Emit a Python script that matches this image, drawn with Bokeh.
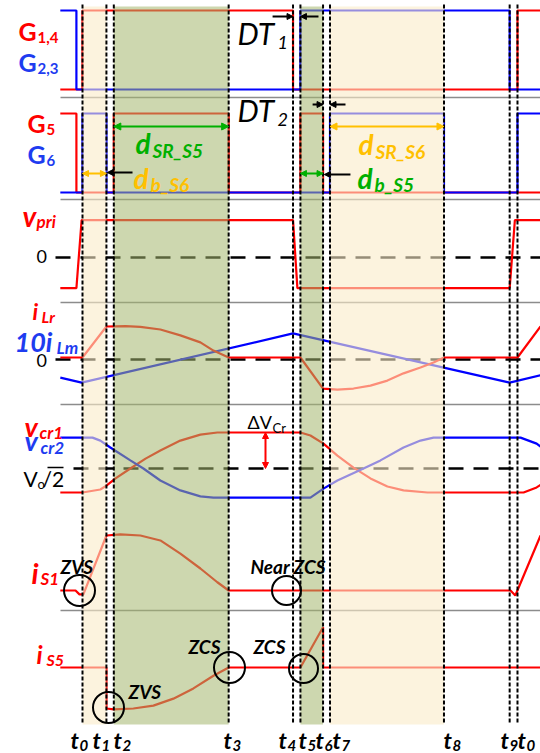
from bokeh.plotting import figure
from bokeh.models import Range1d, Arrow, NormalHead, ColumnDataSource
from bokeh.core.properties import value
from bokeh.embed import file_html
from bokeh.resources import INLINE

# ---------------------------------------------------------------- data
# switching instants, as fractions of one switching period (t0 = 0, next t0 = 1)
instant_names = ["0", "1", "2", "3", "4", "5", "6", "7", "8", "9", "0"]
instant_times = [0.0, 0.055, 0.072, 0.336, 0.484, 0.501, 0.553, 0.569, 0.831, 0.982, 1.0]
(t0, t1, t2, t3, t4, t5, t6, t7, t8, t9, t10) = instant_times
t9_prev = -0.014          # t9 of the previous period
t_first, t_last = -0.051, 1.053

# gate signals: times of the edges and the level before the first edge
g14_edges, g14_init = [t0, t4, t10], 0
g23_edges, g23_init = [t9_prev, t5, t9], 1
g5_edges, g5_init = [t9_prev, t2, t3, t5, t6], 1
g6_edges, g6_init = [t0, t1, t7, t8, t10], 0

# primary voltage (normalised)
vpri_t = [t_first, t9_prev, -0.002, t4, 0.494, t9, 0.994, t_last]
vpri_v = [-0.9, -0.9, 1.1, 1.1, -0.9, -0.9, 1.1, 1.1]

# resonant current and 10x magnetising current (normalised)
ilr_t = [t_first, 0.0, t1, 0.099, 0.133, 0.179, 0.225, 0.271, 0.301, t3, t5, t6,
         0.586, 0.623, 0.662, 0.701, 0.738, 0.777, 0.807, t8, t10, t_last]
ilr_v = [0.06, 0.06, 1.0, 1.01, 0.99, 0.91, 0.73, 0.52, 0.27, 0.06, 0.06, -0.88,
         -0.91, -0.88, -0.79, -0.64, -0.42, -0.24, -0.09, 0.06, 0.06, 1.0]
ilm_t = [t_first, -0.002, t4, t9, t_last]
ilm_v = [-0.55, -0.70, 0.79, -0.70, -0.48]

# resonant capacitor voltages around Vo/2 (normalised)
vcr1_t = [t_first, 0.0, 0.041, 0.055, 0.076, 0.110, 0.145, 0.179, 0.225, 0.271, 0.310,
          t5, 0.524, 0.554, 0.586, 0.623, 0.662, 0.701, 0.738, 0.793, 1.014, 1.044, t_last]
vcr1_v = [-0.8, -0.8, -0.7, -0.57, -0.33, 0.0, 0.33, 0.6, 0.93, 1.13, 1.2,
          1.2, 1.1, 0.83, 0.43, 0.03, -0.33, -0.6, -0.73, -0.8, -0.8, -0.63, -0.55]
vcr2_t = [t_first, 0.023, 0.041, 0.064, 0.110, 0.140, 0.179, 0.225, 0.271, 0.301,
          0.524, 0.554, 0.586, 0.646, 0.685, 0.738, 0.777, 0.807, 1.007, 1.044, t_last]
vcr2_v = [1.03, 1.03, 0.93, 0.7, 0.27, 0.0, -0.4, -0.73, -0.93, -0.97,
          -0.97, -0.67, -0.4, 0.0, 0.27, 0.7, 0.93, 1.03, 1.03, 0.83, 0.73]

# switch currents (normalised)
is1_t = [t_first, -0.016, -0.007, 0.002, t1, 0.087, 0.133, 0.179, 0.225, 0.271, 0.310,
         t3, 0.984, 0.995, t_last]
is1_v = [0.0, 0.0, -0.07, -0.07, 1.0, 1.02, 1.0, 0.91, 0.67, 0.4, 0.15,
         0.0, 0.0, -0.09, 1.0]
is5_t = [t_first, t1, t1, t2, 0.117, 0.163, 0.209, 0.255, 0.301, t3, t5, t6, t6, t_last]
is5_v = [0.0, 0.0, -1.0, -1.02, -1.0, -0.93, -0.76, -0.51, -0.2, 0.0, 0.0, 0.98, 0.0, 0.0]

# ---------------------------------------------------------------- layout
W, H = 540, 753
RED, BLUE = "#FF0000", "#0000FF"
LBLUE = "#1E3CF0"
GREEN, ORANGE, BLACK = "#00B000", "#FFC000", "#000000"
FONT = "Lato"

# panel name -> (screen row of the zero level, pixels per unit)
panels = {
    "g14": (89, 79), "g56": (192, 79), "vpri": (257, 34), "ilr": (359, 33),
    "vcr": (468, 30), "is1": (590, 55), "is5": (667, 41),
}

p = figure(width=W, height=H, output_backend="svg", toolbar_location=None,
           x_range=Range1d(-0.1885, 1.0529), y_range=Range1d(H, 0),
           x_axis_location=None, y_axis_location=None, min_border=0,
           outline_line_color=None, background_fill_color="white",
           border_fill_color="white")
p.grid.visible = False
p.extra_x_ranges = {"px": Range1d(0, W)}
p.extra_y_ranges = {name: Range1d(-(H - z) / g, z / g) for name, (z, g) in panels.items()}


def step(edges, level):
    xs, ys = [t_first], [level]
    for e in edges:
        xs += [e, e]
        ys += [level, 1 - level]
        level = 1 - level
    xs.append(t_last)
    ys.append(level)
    return xs, ys


# panel separators
p.segment(x0=60, x1=W, y0=[97, 199, 302, 404, 610], y1=[97, 199, 302, 404, 610],
          line_color="#8C8C8C", line_width=1.5, x_range_name="px")

# zero / Vo/2 reference lines
for name, xl in (("vpri", 55), ("ilr", 55), ("vcr", 73)):
    p.segment(x0=xl, x1=W, y0=0, y1=0, line_color=BLACK, line_width=2.5,
              line_dash="15 10", x_range_name="px", y_range_name=name)

LW = 2.2
# gate signals (blue drawn over red)
for edges, init, col, rng in ((g14_edges, g14_init, RED, "g14"), (g5_edges, g5_init, RED, "g56"),
                              (g23_edges, g23_init, BLUE, "g14"), (g6_edges, g6_init, BLUE, "g56")):
    xs, ys = step(edges, init)
    p.line(xs, ys, line_color=col, line_width=LW, y_range_name=rng)

p.line(vpri_t, vpri_v, line_color=RED, line_width=LW, y_range_name="vpri")
p.line(ilm_t, ilm_v, line_color=BLUE, line_width=LW, y_range_name="ilr")
p.line(ilr_t, ilr_v, line_color=RED, line_width=LW, y_range_name="ilr")
p.line(vcr1_t, vcr1_v, line_color=RED, line_width=LW, y_range_name="vcr")
p.line(vcr2_t, vcr2_v, line_color=BLUE, line_width=LW, y_range_name="vcr")
p.line(is1_t, is1_v, line_color=RED, line_width=LW, y_range_name="is1")
p.line(is5_t, is5_v, line_color=RED, line_width=LW, y_range_name="is5")

# shaded conduction intervals
p.quad(left=[t0, t7], right=[t1, t8], bottom=724, top=6,
       fill_color="#FAEBC8", fill_alpha=0.6, line_color=None)
p.quad(left=[t2, t5], right=[t3, t6], bottom=724, top=6,
       fill_color="#A4B66D", fill_alpha=0.55, line_color=None)

# instant markers
p.segment(x0=instant_times, x1=instant_times, y0=4, y1=724,
          line_color=BLACK, line_width=2, line_dash="4 2")


def arrow(xa, xb, ya, yb, col, both=True, size=7):
    p.add_layout(Arrow(x_start=xa, x_end=xb, y_start=ya, y_end=yb,
                       line_color=col, line_width=2,
                       start=NormalHead(size=size, fill_color=col, line_color=col) if both else None,
                       end=NormalHead(size=size, fill_color=col, line_color=col)))


arrow(t2, t3, 126, 126, GREEN)
arrow(t0, t1, 173, 173, ORANGE, size=6)
arrow(0.115, t1 + 0.002, 172, 172, BLACK, both=False, size=6)
arrow(t7, t8, 126, 126, ORANGE)
arrow(t5, t6, 173, 173, GREEN, size=6)
arrow(0.616, t6 + 0.003, 174, 174, BLACK, both=False, size=6)
arrow(0.437, t4, 16, 16, BLACK, both=False, size=6)
arrow(0.5425, t5, 16, 16, BLACK, both=False, size=6)
arrow(0.529, t6, 104, 104, BLACK, both=False, size=6)
arrow(0.6046, t7, 104, 104, BLACK, both=False, size=6)
arrow(0.4207, 0.4207, 432, 468, RED, size=6)

# soft-switching circles
p.scatter(x=[79, 286, 108, 229, 303], y=[590, 590, 707, 667, 668], size=[31, 29, 31, 31, 29],
          marker="circle", fill_alpha=0, line_color=BLACK, line_width=2, x_range_name="px")

# overline of Vo/2
p.segment(x0=47, x1=63, y0=467, y1=467, line_color=BLACK, line_width=1.5, x_range_name="px")

# labels: (text, left x, baseline y, font px, style, colour)
BI, B, I, N = "bold italic", "bold", "italic", "normal"
labels = [
    ("G", 18, 39, 25, B, RED), ("1,4", 37, 42, 15, B, RED),
    ("G", 18, 70, 25, B, LBLUE), ("2,3", 37, 73, 15, B, LBLUE),
    ("G", 27, 131, 25, B, RED), ("5", 46, 134, 15, B, RED),
    ("G", 27, 162, 25, B, LBLUE), ("6", 46, 165, 15, B, LBLUE),
    ("DT", 237, 43, 30, I, BLACK), ("1", 277, 48, 18, I, BLACK),
    ("DT", 237, 120, 30, I, BLACK), ("2", 277, 125, 18, I, BLACK),
    ("d", 135, 152, 28, BI, GREEN), ("SR_S5", 152, 156, 19, BI, GREEN),
    ("d", 133, 187, 28, BI, ORANGE), ("b_S6", 150, 190, 19, BI, ORANGE),
    ("d", 358, 153, 28, BI, ORANGE), ("SR_S6", 375, 157, 19, BI, ORANGE),
    ("d", 357, 187, 28, BI, GREEN), ("b_S5", 374, 190, 19, BI, GREEN),
    ("v", 22, 225, 28, BI, RED), ("pri", 36, 227, 17, BI, RED),
    ("0", 36, 262, 18, N, BLACK),
    ("i", 32, 318, 23, BI, RED), ("Lr", 41, 321, 16, BI, RED),
    ("10i", 14, 350, 27, BI, LBLUE), ("Lm", 56, 353, 17, BI, LBLUE),
    ("0", 36, 366, 18, N, BLACK),
    ("v", 24, 435, 27, BI, RED), ("cr1", 39, 438, 17, BI, RED),
    ("v", 24, 449, 27, BI, LBLUE), ("cr2", 40, 453, 17, BI, LBLUE),
    ("V", 23, 485, 21, N, BLACK), ("o", 37, 488, 13, N, BLACK), ("/2", 42, 485, 21, N, BLACK),
    ("\u0394V", 247, 428, 18, N, BLACK), ("Cr", 272, 432, 13, N, BLACK),
    ("i", 31, 582, 29, BI, RED), ("S1", 40, 584, 17, BI, RED),
    ("i", 36, 662, 25, BI, RED), ("S5", 46, 664, 16, BI, RED),
    ("ZVS", 60, 572, 19, BI, BLACK), ("Near ZCS", 250, 572, 19, BI, BLACK),
    ("ZVS", 128, 697, 19, BI, BLACK), ("ZCS", 188, 652, 19, BI, BLACK),
    ("ZCS", 253, 652, 19, BI, BLACK),
]
# time-instant labels along the bottom
instant_label_x = [70, 92, 113, 223, 278, 298, 315, 332, 443, 500, 517]
for name, xl in zip(instant_names, instant_label_x):
    labels.append(("t", xl, 747, 23, BI, BLACK))
    labels.append((name, xl + 9, 750, 15, BI, BLACK))

# texts are anchored at the middle of their em box
src = ColumnDataSource(dict(
    text=[l[0] for l in labels], x=[l[1] for l in labels],
    y=[l[2] - 0.34 * l[3] for l in labels],
    size=[f"{l[3]}px" for l in labels], style=[l[4] for l in labels],
    color=[l[5] for l in labels]))
p.text(x="x", y="y", text="text", source=src, text_font=value(FONT),
       text_font_size="size", text_font_style="style", text_color="color",
       text_align="left", text_baseline="middle", x_range_name="px")

open("out.html", "w").write(file_html(p, INLINE))
